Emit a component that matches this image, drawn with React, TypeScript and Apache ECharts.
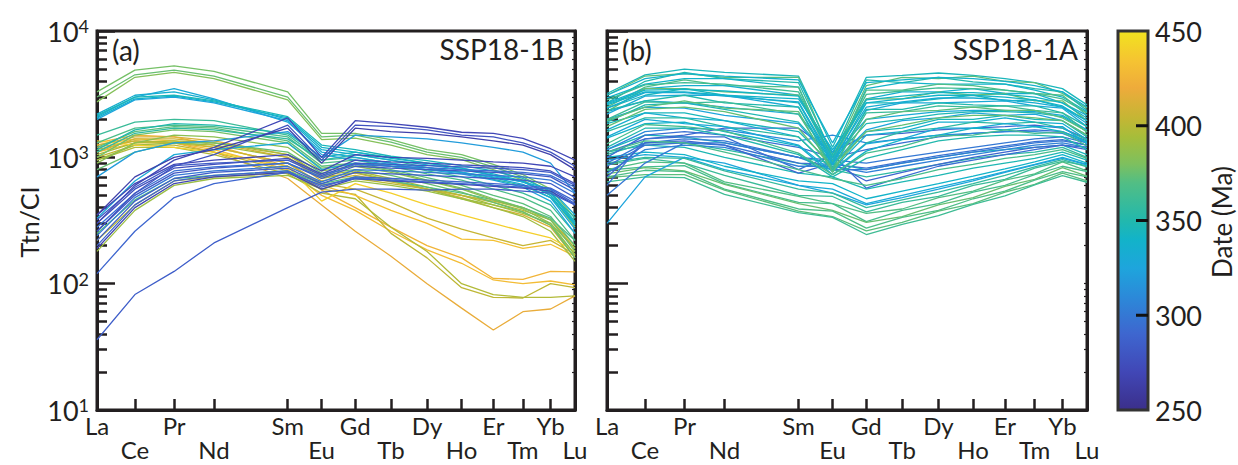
import React, { useEffect, useRef } from "react";
import * as echarts from "echarts";

// ---------- data ----------
const elements = ["La", "Ce", "Pr", "Nd", "Sm", "Eu", "Gd", "Tb", "Dy", "Ho", "Er", "Tm", "Yb", "Lu"];
const elementPositions = [0, 38, 77.3, 117.3, 191.2, 225.2, 258.9, 294.7, 330.9, 365.5, 397.3, 427, 454.7, 479.2];
const yMajorTicks = [10, 100, 1000, 10000];
const yMinorTicks = [20, 30, 40, 50, 60, 70, 80, 90, 200, 300, 400, 500, 600, 700, 800, 900, 2000, 3000, 4000, 5000, 6000, 7000, 8000, 9000];
const dateTicks = [450, 400, 350, 300, 250];
const dateMin = 250;
const dateMax = 450;

// SSP18-1B (panel a)
const datesA = [418, 425, 430, 402, 398, 432, 405, 412, 395, 392, 440, 408, 400, 390, 370,
  378, 375, 382, 360, 368, 372, 355, 378, 350, 385, 375,
  335, 330, 340, 325, 345, 320, 330,
  280, 275, 285, 270, 290, 295, 300, 283, 268, 270, 278, 265, 285, 290];
const valuesA = [
  [1200, 1350, 1300, 1100, 680, 420, 260, 165, 100, 64, 43, 60, 63, 80],
  [1300, 1500, 1450, 1250, 850, 550, 400, 280, 200, 160, 110, 108, 125, 124],
  [1100, 1300, 1300, 1150, 800, 500, 380, 260, 185, 145, 107, 100, 105, 98],
  [1000, 1250, 1250, 1100, 780, 560, 510, 250, 160, 93, 78, 77, 100, 93],
  [950, 1200, 1200, 1050, 740, 520, 470, 280, 180, 100, 82, 78, 78, 80],
  [1250, 1400, 1350, 1200, 900, 600, 500, 380, 300, 225, 220, 190, 205, 165],
  [1150, 1350, 1300, 1200, 900, 620, 560, 440, 330, 270, 230, 200, 220, 170],
  [1250, 1450, 1450, 1350, 1050, 700, 750, 650, 560, 480, 400, 350, 280, 160],
  [1050, 1300, 1350, 1300, 1050, 720, 780, 680, 580, 500, 420, 370, 290, 170],
  [950, 1250, 1300, 1250, 1000, 680, 760, 660, 560, 470, 400, 340, 260, 150],
  [1350, 1250, 1200, 1100, 850, 450, 620, 520, 420, 350, 300, 260, 230, 180],
  [1100, 1400, 1400, 1300, 1000, 650, 720, 640, 560, 500, 450, 400, 320, 190],
  [220, 420, 650, 700, 750, 600, 680, 620, 560, 500, 440, 380, 320, 200],
  [180, 380, 600, 680, 720, 560, 650, 600, 540, 470, 420, 360, 300, 190],
  [250, 460, 680, 720, 780, 620, 700, 650, 580, 520, 460, 400, 330, 220],
  [3300, 4900, 5300, 4800, 3300, 1550, 1550, 1380, 1150, 1050, 880, 730, 560, 330],
  [3000, 4500, 4900, 4400, 3000, 1450, 1500, 1320, 1100, 1000, 840, 700, 530, 300],
  [2750, 4300, 4700, 4200, 2850, 1380, 1420, 1250, 1050, 960, 800, 660, 500, 280],
  [1500, 1900, 2000, 1950, 1500, 950, 1000, 900, 780, 700, 600, 520, 420, 250],
  [1300, 1700, 1800, 1750, 1450, 900, 950, 850, 740, 660, 560, 480, 380, 220],
  [1200, 1600, 1750, 1700, 1350, 850, 900, 800, 690, 600, 500, 430, 340, 200],
  [1100, 1550, 1700, 1650, 1400, 950, 1050, 950, 830, 760, 670, 600, 480, 300],
  [1000, 1500, 1650, 1600, 1300, 820, 880, 780, 660, 570, 470, 400, 320, 180],
  [1150, 1650, 1850, 1800, 1550, 1000, 1100, 1000, 900, 820, 720, 640, 520, 330],
  [900, 1300, 1500, 1450, 1200, 780, 850, 760, 650, 560, 460, 390, 300, 170],
  [800, 1100, 1300, 1300, 1100, 750, 800, 720, 620, 530, 440, 370, 290, 160],
  [2200, 3100, 3300, 2850, 2000, 1150, 1050, 950, 870, 800, 720, 640, 520, 300],
  [2100, 3000, 3500, 2900, 1900, 1100, 1000, 900, 830, 760, 690, 610, 480, 270],
  [2050, 2900, 3050, 2750, 2050, 1200, 1100, 980, 900, 820, 740, 650, 500, 290],
  [2000, 2850, 3000, 2700, 1950, 1050, 950, 880, 800, 740, 660, 580, 450, 250],
  [2150, 3000, 3100, 2800, 2100, 1250, 1150, 1020, 940, 860, 780, 680, 540, 310],
  [700, 1100, 1300, 1350, 1600, 1000, 1500, 1450, 1400, 1300, 1200, 1100, 900, 520],
  [330, 650, 1050, 1150, 1300, 800, 900, 850, 800, 760, 700, 640, 560, 350],
  [260, 500, 750, 820, 900, 680, 850, 820, 800, 780, 760, 740, 700, 550],
  [300, 560, 820, 880, 980, 740, 950, 920, 900, 870, 850, 830, 780, 620],
  [220, 450, 680, 760, 820, 620, 760, 740, 720, 700, 680, 660, 620, 480],
  [350, 620, 880, 950, 1050, 780, 1050, 1000, 980, 950, 920, 900, 850, 700],
  [200, 420, 650, 720, 780, 580, 700, 680, 660, 640, 620, 600, 570, 450],
  [280, 520, 780, 840, 900, 700, 880, 850, 830, 800, 780, 760, 720, 580],
  [240, 480, 720, 780, 850, 640, 800, 780, 760, 740, 720, 700, 660, 520],
  [320, 580, 860, 900, 950, 720, 900, 880, 860, 840, 820, 800, 760, 600],
  [190, 400, 620, 700, 760, 560, 680, 650, 630, 610, 590, 570, 540, 420],
  [300, 600, 950, 1200, 2050, 1000, 1950, 1850, 1730, 1580, 1550, 1410, 1170, 950],
  [260, 520, 850, 1050, 1800, 950, 1800, 1750, 1650, 1500, 1450, 1300, 1100, 850],
  [350, 700, 1000, 1150, 1700, 900, 1700, 1600, 1550, 1450, 1350, 1250, 1050, 800],
  [36, 82, 125, 210, 400, 530, 560, 560, 550, 560, 560, 540, 520, 420],
  [120, 260, 480, 620, 760, 600, 680, 660, 640, 620, 600, 580, 560, 430],
];

// SSP18-1A (panel b)
const datesB = [360, 370, 365, 375, 368, 372, 362, 330, 325, 340, 358, 348, 355, 345,
  290, 295, 300, 305, 295, 290, 310, 300, 296, 366,
  325, 345, 335, 355, 330, 340, 365, 348, 330, 350, 374,
  345, 372, 350, 340, 368, 335, 375, 345, 330, 350, 340, 360, 338, 372, 362, 342, 333];
const valuesB = [
  [870, 980, 900, 720, 500, 490, 370, 440, 490, 600, 670, 820, 930, 860],
  [800, 920, 900, 640, 490, 430, 360, 390, 480, 540, 660, 740, 920, 780],
  [790, 840, 860, 620, 440, 430, 310, 380, 430, 530, 600, 730, 850, 770],
  [740, 830, 780, 610, 430, 380, 305, 340, 420, 480, 590, 670, 830, 710],
  [700, 790, 770, 560, 390, 375, 275, 335, 380, 470, 540, 660, 770, 700],
  [690, 730, 730, 550, 375, 340, 262, 305, 375, 430, 530, 610, 750, 650],
  [640, 700, 690, 510, 365, 335, 245, 295, 345, 425, 495, 605, 715, 635],
  [950, 1050, 1000, 800, 600, 560, 430, 500, 580, 670, 770, 880, 1000, 880],
  [300, 700, 1000, 900, 600, 520, 420, 480, 560, 650, 760, 870, 980, 870],
  [1000, 1100, 1050, 850, 650, 620, 470, 540, 620, 710, 810, 920, 1050, 900],
  [900, 1000, 980, 780, 560, 520, 400, 460, 530, 620, 720, 840, 960, 840],
  [1100, 1250, 1200, 1000, 750, 700, 560, 640, 720, 820, 900, 980, 1100, 950],
  [1050, 1300, 1300, 1150, 900, 800, 700, 780, 880, 980, 1050, 1100, 1200, 1000],
  [1150, 1500, 1450, 1300, 1000, 900, 800, 900, 1000, 1100, 1150, 1200, 1250, 1050],
  [1100, 1400, 1500, 1700, 1700, 1100, 1500, 1550, 1650, 1700, 1750, 1800, 1700, 1400],
  [600, 1400, 1450, 1450, 800, 1050, 570, 700, 850, 950, 1050, 1150, 1250, 1200],
  [900, 1300, 1400, 1350, 1000, 950, 900, 1000, 1100, 1200, 1300, 1400, 1450, 1300],
  [750, 1150, 1250, 1200, 850, 850, 760, 850, 950, 1050, 1150, 1250, 1300, 1200],
  [1000, 1500, 1600, 1500, 1200, 1000, 1150, 1300, 1450, 1550, 1600, 1650, 1600, 1350],
  [700, 1300, 1350, 1250, 750, 900, 650, 760, 880, 1000, 1100, 1200, 1250, 1150],
  [1150, 1600, 1700, 1650, 1350, 1500, 1300, 1400, 1500, 1550, 1600, 1600, 1550, 1300],
  [500, 900, 1300, 1300, 1000, 800, 800, 900, 1000, 1100, 1200, 1300, 1350, 1250],
  [850, 1250, 1300, 1250, 900, 880, 820, 920, 1030, 1130, 1230, 1330, 1380, 1250],
  [1100, 1350, 1300, 1100, 800, 680, 600, 680, 800, 880, 980, 1050, 1150, 980],
  [2000, 2500, 2450, 2150, 1850, 900, 1650, 1950, 2050, 2250, 2150, 2200, 1950, 1500],
  [1850, 2250, 2250, 1950, 1600, 870, 1600, 1700, 2000, 2000, 2150, 2000, 1950, 1450],
  [1650, 2250, 2050, 1950, 1450, 800, 1500, 1600, 1900, 1900, 2050, 1900, 1850, 1380],
  [1600, 2050, 2050, 1750, 1450, 790, 1300, 1600, 1700, 1900, 1850, 1900, 1700, 1370],
  [1450, 2000, 1850, 1750, 1250, 770, 1280, 1400, 1700, 1700, 1850, 1750, 1750, 1280],
  [1420, 1850, 1900, 1600, 1230, 730, 1120, 1380, 1500, 1700, 1650, 1750, 1600, 1320],
  [1280, 1820, 1750, 1620, 1080, 730, 1080, 1220, 1480, 1500, 1650, 1550, 1580, 1230],
  [1900, 2600, 2700, 2400, 1900, 950, 1850, 2000, 2200, 2300, 2300, 2250, 2100, 1600],
  [2300, 2800, 2700, 2500, 2200, 1000, 2000, 2150, 2300, 2350, 2350, 2300, 2150, 1650],
  [1200, 1700, 1700, 1500, 1050, 700, 980, 1150, 1350, 1450, 1500, 1500, 1450, 1150],
  [1750, 2400, 2500, 2300, 1700, 820, 1600, 1800, 2050, 2150, 2150, 2050, 1950, 1500],
  [3200, 4500, 5000, 4700, 4400, 1200, 4300, 4450, 4650, 4450, 4200, 3900, 3500, 2600],
  [3100, 4400, 4600, 4300, 4300, 1000, 3700, 4300, 4200, 4400, 4000, 3900, 3200, 2450],
  [2700, 4000, 4700, 4200, 3900, 1050, 4100, 3900, 4300, 3950, 3800, 3500, 3300, 2350],
  [2950, 3800, 4200, 4200, 3600, 880, 3500, 3900, 3800, 3800, 3800, 3400, 3000, 2300],
  [2500, 3600, 4100, 3700, 3600, 920, 3400, 3400, 3800, 3700, 3400, 3200, 3100, 2150],
  [2700, 3500, 3700, 3700, 3100, 1100, 2900, 3300, 3300, 3500, 3200, 3200, 2700, 2150],
  [2300, 3500, 3500, 3300, 3100, 950, 2900, 2900, 3300, 3100, 3200, 2800, 2800, 1950],
  [2450, 3100, 3500, 3100, 2700, 900, 2700, 2700, 2900, 3100, 2800, 2850, 2500, 1950],
  [2200, 3050, 3100, 3100, 2500, 880, 2350, 2700, 2700, 2750, 2800, 2550, 2450, 1750],
  [2350, 2800, 3100, 2700, 2500, 820, 2400, 2400, 2700, 2600, 2550, 2550, 2250, 1750],
  [2600, 3300, 3300, 3100, 2900, 1150, 2700, 2900, 3100, 3100, 3000, 2850, 2550, 1950],
  [2000, 2750, 2700, 2750, 2200, 820, 2250, 2300, 2550, 2500, 2550, 2350, 2250, 1580],
  [3100, 4200, 4600, 4400, 4100, 1300, 3900, 4100, 4300, 4200, 4000, 3700, 3300, 2500],
  [1950, 2500, 2800, 2450, 2300, 760, 2000, 2300, 2350, 2500, 2350, 2350, 2050, 1600],
  [2850, 3750, 3900, 3800, 3300, 1000, 3150, 3350, 3550, 3500, 3400, 3200, 2900, 2250],
  [2650, 3400, 3450, 3350, 3050, 1000, 2850, 3050, 3250, 3250, 3150, 3000, 2700, 2050],
  [2450, 3250, 3250, 3050, 2750, 950, 2500, 2750, 2950, 2950, 2850, 2700, 2500, 1850],
];

// ---------- style ----------
const FONT = 'Lato, "Noto Sans", sans-serif';
const INK = "#231f20";
const colorStops: [number, string][] = [
  [0, "#3b2f8a"], [0.1, "#4147b6"], [0.2, "#3e66cf"], [0.3, "#2b8ad9"], [0.375, "#1ea5dc"],
  [0.45, "#12b3c9"], [0.5, "#22b8ad"], [0.6, "#52be84"], [0.65, "#7ec05e"], [0.72, "#a6bd3a"],
  [0.77, "#c4b634"], [0.85, "#eeab3b"], [0.92, "#f5c332"], [1, "#f1e31f"],
];

function hexToRgb(h: string) {
  const n = parseInt(h.slice(1), 16);
  return [(n >> 16) & 255, (n >> 8) & 255, n & 255];
}
function dateColor(d: number) {
  const t = Math.max(0, Math.min(1, (d - dateMin) / (dateMax - dateMin)));
  for (let i = 1; i < colorStops.length; i++) {
    const [t1, c1] = colorStops[i];
    const [t0, c0] = colorStops[i - 1];
    if (t <= t1) {
      const f = (t - t0) / (t1 - t0);
      const a = hexToRgb(c0), b = hexToRgb(c1);
      const m = a.map((v, k) => Math.round(v + (b[k] - v) * f));
      return `rgb(${m[0]},${m[1]},${m[2]})`;
    }
  }
  return colorStops[colorStops.length - 1][1];
}

const X_MAX = elementPositions[elementPositions.length - 1];
const upperPos = elementPositions.filter((_, i) => i % 2 === 0);
const lowerPos = elementPositions.filter((_, i) => i % 2 === 1);
const nameAt = (v: number) => {
  const i = elementPositions.findIndex((p) => Math.abs(p - v) < 0.01);
  return i >= 0 ? elements[i] : "";
};

function makeXAxes(gridIndex: number) {
  const lbl = { fontSize: 24, color: INK, fontFamily: FONT };
  return [
    {
      type: "value", gridIndex, min: 0, max: X_MAX, position: "bottom",
      axisLine: { show: true, onZero: false, lineStyle: { color: INK, width: 3 } },
      axisTick: { show: true, inside: true, length: 11, customValues: elementPositions, lineStyle: { color: INK, width: 2.5 } },
      axisLabel: { show: true, customValues: upperPos, formatter: nameAt, margin: 3, ...lbl },
      splitLine: { show: false },
    },
    {
      type: "value", gridIndex, min: 0, max: X_MAX, position: "bottom",
      axisLine: { show: false }, axisTick: { show: false },
      axisLabel: { show: true, customValues: lowerPos, formatter: nameAt, margin: 27, ...lbl },
      splitLine: { show: false },
    },
  ];
}

function makeYAxes(gridIndex: number, showLabels: boolean, majorLen: number, minorLen: number) {
  const base = { type: "log", logBase: 10, gridIndex, min: 10, max: 10000, splitLine: { show: false }, minorTick: { show: false } };
  return [
    {
      ...base, position: "left",
      axisLine: { show: true, onZero: false, lineStyle: { color: INK, width: 3 } },
      axisTick: { show: true, inside: true, length: majorLen, customValues: yMajorTicks, lineStyle: { color: INK, width: 2.5 } },
      axisLabel: {
        show: showLabels, customValues: yMajorTicks, margin: 8,
        formatter: (v: number) => `{b|10}{s|${Math.round(Math.log10(v))}}`,
        rich: {
          b: { fontSize: 27, color: INK, fontFamily: FONT, lineHeight: 28 },
          s: { fontSize: 18, color: INK, fontFamily: FONT, verticalAlign: "top", lineHeight: 18 },
        },
      },
    },
    {
      ...base, position: "left",
      axisLine: { show: false },
      axisTick: { show: true, inside: true, length: minorLen, customValues: yMinorTicks, lineStyle: { color: INK, width: 2.5 } },
      axisLabel: { show: false },
    },
    {
      ...base, position: "right",
      axisLine: { show: true, onZero: false, lineStyle: { color: INK, width: 3 } },
      axisTick: { show: true, inside: true, length: 3, customValues: [...yMajorTicks, ...yMinorTicks], lineStyle: { color: INK, width: 1.2 } },
      axisLabel: { show: false },
    },
  ];
}

function makeSeries(dates: number[], values: number[][], xAxisIndex: number, yAxisIndex: number) {
  return values.map((vals, i) => ({
    type: "line",
    xAxisIndex, yAxisIndex,
    data: elementPositions.map((x, j) => [x, vals[j]]),
    symbol: "none", silent: true,
    lineStyle: { width: 1.3, color: dateColor(dates[i]) },
    emphasis: { disabled: true },
  }));
}

function buildOption() {
  const barX = 1118, barY = 31, barW = 30, barH = 379;
  const dateY = (d: number) => barY + ((dateMax - d) / (dateMax - dateMin)) * barH;
  const grad = new echarts.graphic.LinearGradient(0, 0, 0, 1,
    colorStops.map(([t, c]) => ({ offset: 1 - t, color: c })).reverse());
  const txt = (x: number, y: number, text: string, size: number, align: string, extra: any = {}) => ({
    type: "text", x, y, silent: true, ...extra,
    style: { text, fontSize: size, fontFamily: FONT, fill: INK, align, verticalAlign: "middle" },
  });
  const graphic: any[] = [
    txt(112, 50, "(a)", 28, "left"),
    txt(564, 49, "SSP18-1B", 28, "right"),
    txt(622, 50, "(b)", 28, "left"),
    txt(1078, 49, "SSP18-1A", 28, "right"),
    txt(29, 222, "Ttn/CI", 25, "center", { rotation: Math.PI / 2 }),
    txt(1222, 222, "Date (Ma)", 26, "center", { rotation: Math.PI / 2 }),
    {
      type: "rect", silent: true, shape: { x: barX, y: barY, width: barW, height: barH },
      style: { fill: grad, stroke: "#333333", lineWidth: 3 },
    },
    ...dateTicks.filter((d) => d !== dateMin && d !== dateMax).map((d) => ({
      type: "line", silent: true,
      shape: { x1: barX + barW - 12, y1: dateY(d), x2: barX + barW, y2: dateY(d) },
      style: { stroke: "#111", lineWidth: 3 },
    })),
    ...dateTicks.map((d) => txt(1155, dateY(d), String(d), 27, "left")),
  ];

  return {
    animation: false,
    backgroundColor: "#ffffff",
    grid: [
      { left: 97, top: 31, width: 478, height: 379, show: true, borderColor: INK, borderWidth: 3, backgroundColor: "transparent" },
      { left: 607, top: 31, width: 480, height: 379, show: true, borderColor: INK, borderWidth: 3, backgroundColor: "transparent" },
    ],
    xAxis: [...makeXAxes(0), ...makeXAxes(1)],
    yAxis: [...makeYAxes(0, true, 18, 10), ...makeYAxes(1, false, 21, 11)],
    series: [...makeSeries(datesA, valuesA, 0, 0), ...makeSeries(datesB, valuesB, 2, 3)],
    graphic,
  };
}

export default function App() {
  const ref = useRef<HTMLDivElement>(null);
  useEffect(() => {
    const chart = echarts.init(ref.current!, null, { renderer: "svg" });
    chart.setOption(buildOption() as any);
    return () => chart.dispose();
  }, []);
  return (
    <div
      ref={ref}
      style={{ position: "fixed", left: 0, top: 0, width: 1238, height: 465, background: "#fff" }}
    />
  );
}
